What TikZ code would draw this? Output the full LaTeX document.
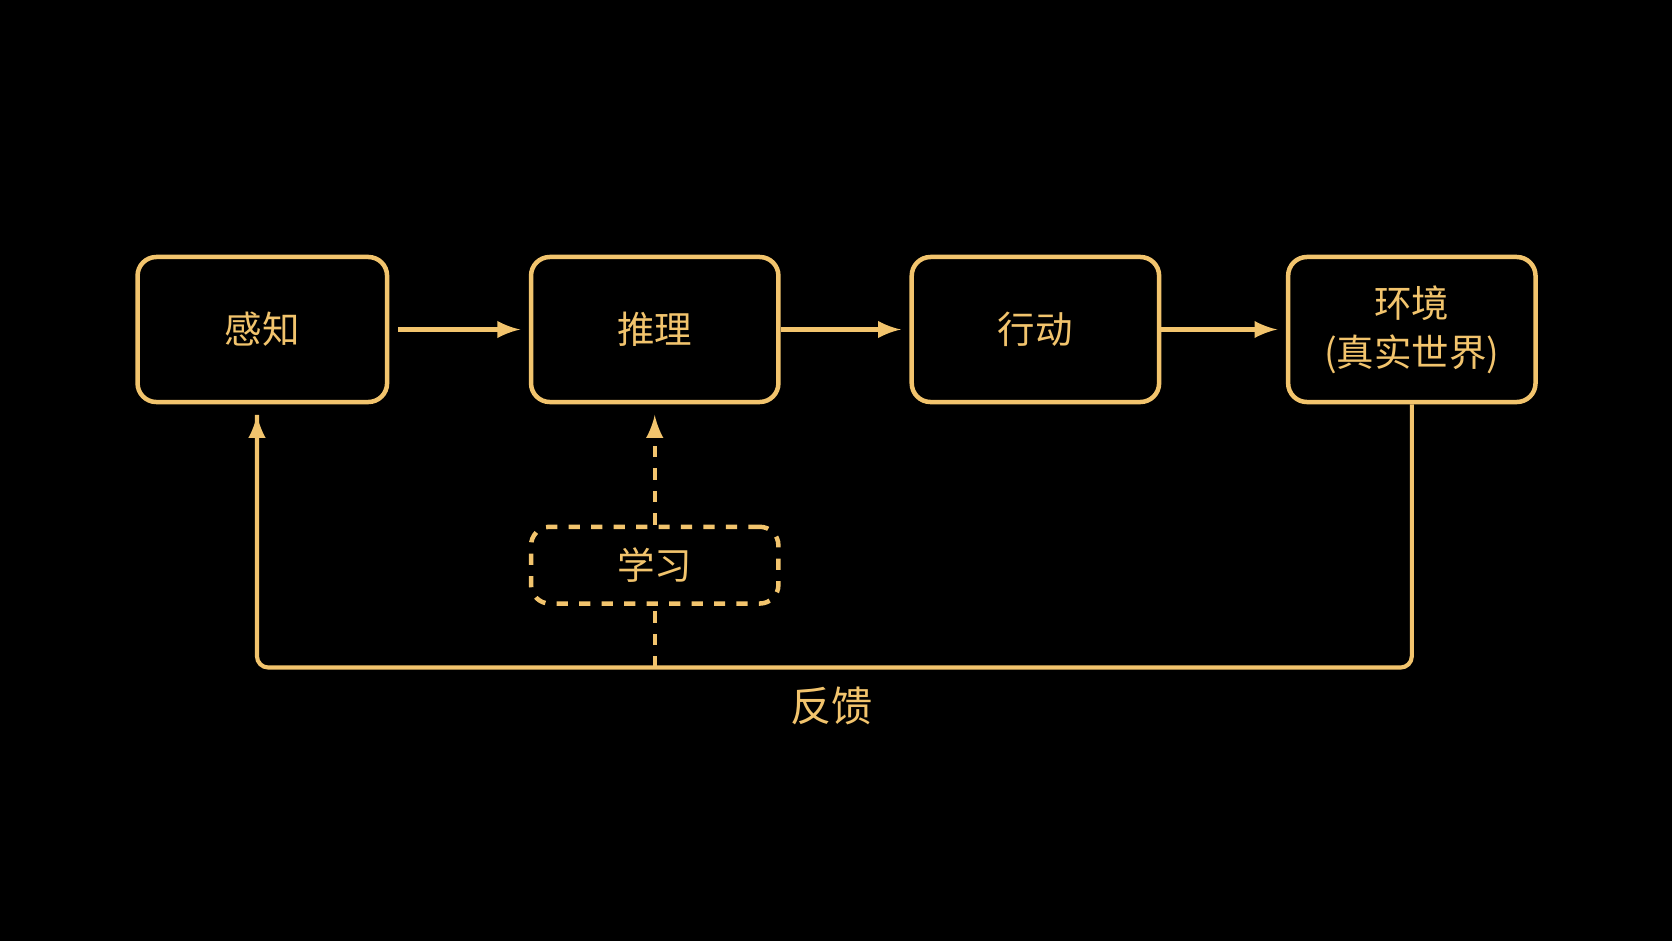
\documentclass[tikz,border=0pt]{standalone}
\usepackage{fontspec}
\setmainfont{Noto Sans CJK SC}
\usepackage{xcolor}
\definecolor{gold}{HTML}{F2C46D}
\usetikzlibrary{positioning}

\begin{document}
\begin{tikzpicture}[
    block/.style={rectangle, draw=gold, line width=1.2pt, rounded corners=5pt, minimum width=2.32cm, minimum height=1.36cm, align=center, text=gold, font=\fontsize{10}{13}\selectfont},
    dblock/.style={block, dashed, minimum height=0.72cm},
    arrow/.style={-latex, draw=gold, line width=1.1pt},
    link/.style={draw=gold, line width=1.1pt}
]
    \fill[black] (0,0) rectangle (15.68,8.82);
    \useasboundingbox (0,0) rectangle (15.68,8.82);

    % Blocks
    \node[block, minimum width=2.34cm] (perceive) at (2.46, 5.73) {感知};
    \node[block] (reason) at (6.14, 5.73) {推理};
    \node[block] (act) at (9.71, 5.73) {行动};
    \node[block] (env) at (13.24, 5.73) {环境\\(真实世界)};
    \node[dblock] (learn) at (6.14, 3.52) {学习};

    % Forward arrows
    \draw[arrow] ([xshift=0.08cm]perceive.east) -- ([xshift=-0.08cm]reason.west);
    \draw[arrow] (reason.east) -- ([xshift=-0.08cm]act.west);
    \draw[arrow] (act.east) -- ([xshift=-0.08cm]env.west);

    % Feedback loop
    \coordinate (fbr) at (13.24, 2.56);
    \coordinate (fbl) at (2.41, 2.56);
    \coordinate (fbm) at (6.14, 2.56);
    \draw[link, rounded corners=3pt] (env.south) -- (fbr) -- (fbl) -- ([yshift=-0.1cm]fbl |- perceive.south);
    \draw[arrow] ([yshift=-0.2cm]fbl |- perceive.south) -- ([yshift=-0.1cm]fbl |- perceive.south);
    \node[text=gold, font=\fontsize{11}{13}\selectfont] (fblabel) at (7.8, 2.2) {反馈};

    % Learning
    \draw[link, dashed] (fbm) -- (learn.south);
    \draw[arrow, dashed] (learn.north) -- ([yshift=-0.1cm]reason.south);
\end{tikzpicture}
\end{document}
